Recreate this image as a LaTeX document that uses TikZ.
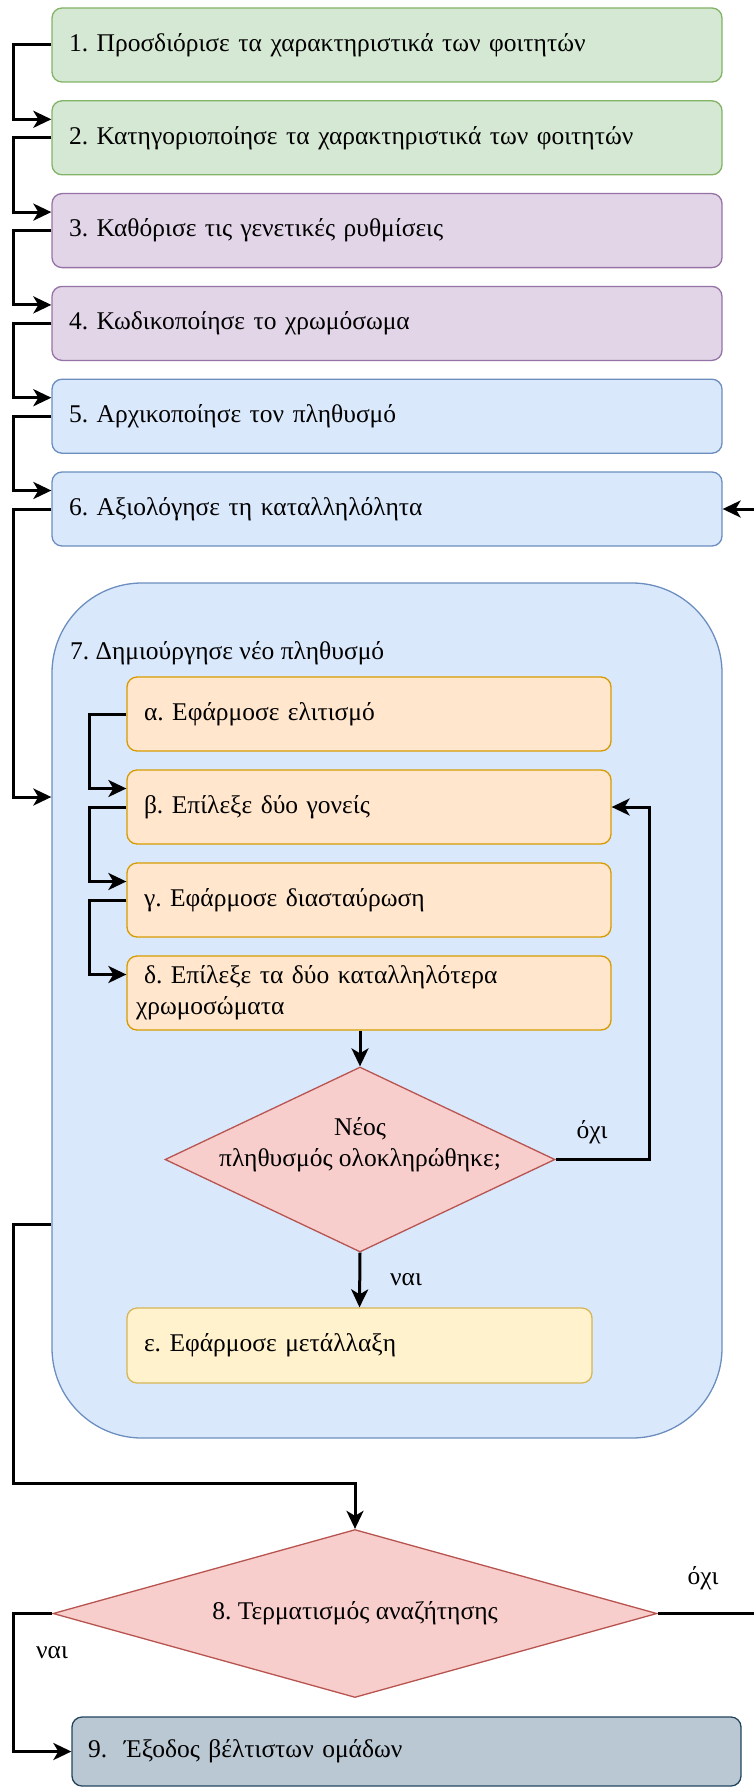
\documentclass[tikz,border=0pt]{standalone}
\usepackage{fontspec}
\setmainfont{Liberation Serif}
\usetikzlibrary{arrows.meta,shapes.geometric}
\frenchspacing

\definecolor{greenfill}{HTML}{D5E8D4}
\definecolor{greenline}{HTML}{82B366}
\definecolor{purplefill}{HTML}{E1D5E7}
\definecolor{purpleline}{HTML}{9673A6}
\definecolor{bluefill}{HTML}{DAE8FC}
\definecolor{blueline}{HTML}{6C8EBF}
\definecolor{orangefill}{HTML}{FFE6CC}
\definecolor{orangeline}{HTML}{D79B00}
\definecolor{yellowfill}{HTML}{FFF2CC}
\definecolor{yellowline}{HTML}{D6B656}
\definecolor{redfill}{HTML}{F8CECC}
\definecolor{redline}{HTML}{B85450}
\definecolor{slatefill}{HTML}{BAC8D3}
\definecolor{slateline}{HTML}{23445D}

\begin{document}
\begin{tikzpicture}[
    x=1pt, y=-1pt,
    every node/.style={font=\fontsize{25.5}{31}\selectfont},
    stepbox/.style={rectangle, rounded corners=10pt, draw, line width=1.3pt,
        minimum width=670pt, minimum height=74pt, text width=636pt,
        inner xsep=17pt, inner ysep=0pt, align=left},
    subbox/.style={stepbox, minimum width=484pt, text width=450pt},
    groupbox/.style={rectangle, rounded corners=90pt, draw=blueline, fill=bluefill,
        line width=1.3pt, minimum width=670pt, minimum height=855pt},
    decision/.style={diamond, draw=redline, fill=redfill, line width=1.3pt,
        inner sep=0pt, align=center},
    greenbox/.style={fill=greenfill, draw=greenline},
    purplebox/.style={fill=purplefill, draw=purpleline},
    bluebox/.style={fill=bluefill, draw=blueline},
    orangebox/.style={fill=orangefill, draw=orangeline},
    yellowbox/.style={fill=yellowfill, draw=yellowline},
    slatebox/.style={fill=slatefill, draw=slateline},
    link/.style={-{Stealth[length=18pt, width=17pt, inset=5pt]}, line width=3pt}
]
    \useasboundingbox (0,0) rectangle (753,1787);

    \node[stepbox, greenbox] (s1) at (387,45) {1. Προσδιόρισε τα χαρακτηριστικά των φοιτητών};
    \node[stepbox, greenbox] (s2) at (387,137.8) {2. Κατηγοριοποίησε τα χαρακτηριστικά των φοιτητών};
    \node[stepbox, purplebox] (s3) at (387,230.6) {3. Καθόρισε τις γενετικές ρυθμίσεις};
    \node[stepbox, purplebox] (s4) at (387,323.4) {4. Κωδικοποίησε το χρωμόσωμα};
    \node[stepbox, bluebox] (s5) at (387,416.2) {5. Αρχικοποίησε τον πληθυσμό};
    \node[stepbox, bluebox] (s6) at (387,509) {6. Αξιολόγησε τη καταλληλόλητα};

    % Ομάδα 7
    \node[groupbox] (grp) at (387,1010.5) {};
    \node[anchor=west, inner sep=0pt] (grptitle) at (70,653) {7. Δημιούργησε νέο πληθυσμό};

    \node[subbox, orangebox] (a) at (369,714) {α. Εφάρμοσε ελιτισμό};
    \node[subbox, orangebox] (b) at (369,807) {β. Επίλεξε δύο γονείς};
    \node[subbox, orangebox] (c) at (369,900) {γ. Εφάρμοσε διασταύρωση};
    \node[subbox, orangebox] (d) at (369,993) {δ. Επίλεξε τα δύο καταλληλότερα\\\hspace*{-8pt}χρωμοσώματα};
    \node[decision, aspect=2.1, minimum width=390pt, minimum height=185pt] (q) at (360,1159.5) {\raisebox{8pt}[0pt][0pt]{\begin{tabular}{@{}c@{}}Νέος\\πληθυσμός ολοκληρώθηκε;\end{tabular}}};
    \node[subbox, yellowbox, minimum width=465pt, text width=431pt, minimum height=75pt] (e) at (359.5,1345.5) {ε. Εφάρμοσε μετάλλαξη};

    \node[decision, aspect=3.6, minimum width=604pt, minimum height=168pt] (t) at (355,1613.5) {8. Τερματισμός αναζήτησης};
    \node[stepbox, slatebox, minimum width=669pt, text width=637pt, inner xsep=16pt, minimum height=69pt] (s9) at (406.5,1751.5) {9.\ \ Έξοδος βέλτιστων ομάδων};

    % Ετικέτες
    \node (no1) at (592,1132) {όχι};
    \node (yes1) at (406,1280) {ναι};
    \node (no2) at (703,1578) {όχι};
    \node (yes2) at (52,1653) {ναι};

    % Βήματα 1-6
    \draw[link] (s1.west) -- ++(-38,0) |- ([yshift=18.5pt]s2.west);
    \draw[link] (s2.west) -- ++(-38,0) |- ([yshift=18.5pt]s3.west);
    \draw[link] (s3.west) -- ++(-38,0) |- ([yshift=18.5pt]s4.west);
    \draw[link] (s4.west) -- ++(-38,0) |- ([yshift=18.5pt]s5.west);
    \draw[link] (s5.west) -- ++(-38,0) |- ([yshift=18.5pt]s6.west);
    \draw[link] (s6.west) -- ++(-38,0) |- ([yshift=213.5pt]grp.west);

    % Μέσα στην ομάδα
    \draw[link] (a.west) -- ++(-37,0) |- ([yshift=18.5pt]b.west);
    \draw[link] (b.west) -- ++(-37,0) |- ([yshift=18.5pt]c.west);
    \draw[link] (c.west) -- ++(-37,0) |- ([yshift=18.5pt]d.west);
    \draw[link] (d.south -| q.north) -- (q.north);
    \draw[link] (q.south) -- (e.north);
    \draw[link] (q.east) -- ++(94,0) |- (b.east);

    % Τερματισμός
    \draw[link] ([yshift=-213.5pt]grp.west) -- ++(-38,0) -- ++(0,259) -| (t.north);
    \draw[link] (t.east) -- ++(130,0) |- (s6.east);
    \draw[link] (t.west) -- ++(-39,0) |- (s9.west);

\end{tikzpicture}
\end{document}
